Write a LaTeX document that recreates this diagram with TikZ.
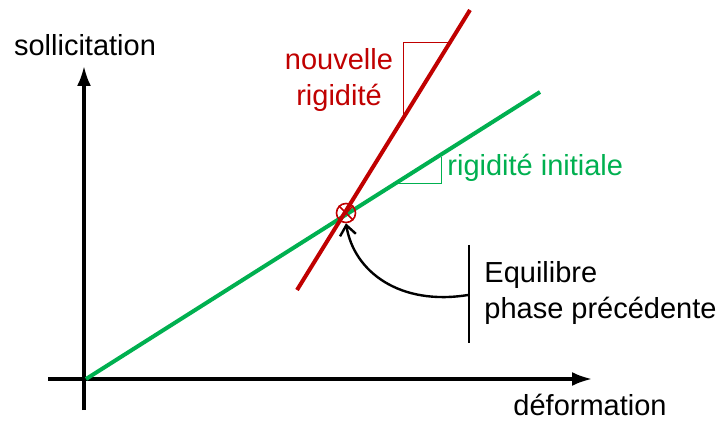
\documentclass[tikz,border=0pt]{standalone}
\usepackage{fontspec}
\setmainfont{Liberation Sans}
\usetikzlibrary{positioning,arrows.meta,calc}
\definecolor{rigred}{RGB}{192,0,0}
\definecolor{riggreen}{RGB}{0,176,80}
\tikzset{
  figaxis/.style={line width=1.6pt, -{Latex[length=10pt, width=7pt]}},
  figline/.style={line width=2pt},
  figslope/.style={line width=0.5pt},
  figlabel/.style={font=\fontsize{14.5}{17.5}\selectfont, inner sep=0pt},
  figarrow/.style={line width=1.2pt, -{Straight Barb[length=5pt, width=8pt]}},
}

\begin{document}
\begin{tikzpicture}[x=0.5pt, y=-0.5pt]
  \useasboundingbox (0,0) rectangle (721,421);
  % axes
  \coordinate (O) at (86,379);
  \coordinate (xl) at (48,379);
  \coordinate (xr) at (592,379);
  \coordinate (yb) at (84,410);
  \coordinate (yt) at (84,66);
  \draw[figaxis] (xl) -- (xr);
  \draw[figaxis] (yb) -- (yt);
  \node[figlabel] (ylab) at (85,45) {sollicitation};
  \node[figlabel] (xlab) at (590,405) {déformation};
  % rigidites
  \coordinate (g1) at (540,92);
  \coordinate (r0) at (297,290);
  \coordinate (r1) at (470,10);
  \draw[figline, riggreen] (O) -- (g1);
  \draw[figline, rigred] (r0) -- (r1);
  \draw[figslope, rigred] (403,118.5) |- (449.6,43);
  \draw[figslope, riggreen] (396,184) -| (441,157);
  \node[figlabel, text=rigred, align=center] (newlab) at (339,80) {nouvelle\\[0.5pt]rigidité};
  \node[figlabel, text=riggreen, anchor=west] (inilab) at (447,168) {rigidité initiale};
  % equilibre
  \node[circle, draw=rigred, line width=0.8pt, minimum size=9.5pt, inner sep=0pt] (eq) at (346,213) {};
  \draw[rigred, line width=0.8pt] (eq.north west) -- (eq.south east) (eq.north east) -- (eq.south west);
  \coordinate (bt) at (469,245);
  \coordinate (bb) at (469,343);
  \draw[line width=1pt] (bt) -- (bb);
  \node[figlabel, anchor=west, align=left] (eqlab) at (484,293) {Equilibre\\[0.5pt]phase précédente};
  \draw[figarrow] (468,295) .. controls (400,306) and (354,272) .. (eq.south);
\end{tikzpicture}
\end{document}
